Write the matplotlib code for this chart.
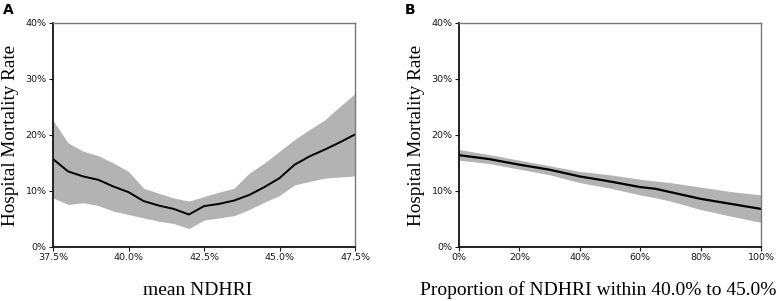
import matplotlib
matplotlib.use("Agg")
import matplotlib.pyplot as plt
from matplotlib.ticker import FuncFormatter

# Panel A data
a_x = [37.5, 38.0, 38.5, 39.0, 39.5, 40.0, 40.5, 41.0, 41.5, 42.0, 42.5,
       43.0, 43.5, 44.0, 44.5, 45.0, 45.5, 46.0, 46.5, 47.0, 47.5]
a_mean = [15.7, 13.5, 12.6, 12.0, 10.8, 9.8, 8.2, 7.4, 6.8, 5.8, 7.3,
          7.7, 8.3, 9.3, 10.7, 12.3, 14.7, 16.2, 17.4, 18.7, 20.1]
a_upper = [22.6, 18.6, 17.1, 16.3, 15.0, 13.5, 10.5, 9.6, 8.75, 8.2, 9.0,
           9.8, 10.5, 13.2, 15.0, 17.1, 19.2, 21.0, 22.7, 25.1, 27.4]
a_lower = [8.75, 7.6, 7.9, 7.4, 6.4, 5.8, 5.2, 4.6, 4.2, 3.3, 4.8,
           5.2, 5.6, 6.7, 8.0, 9.2, 11.1, 11.7, 12.3, 12.5, 12.7]

# Panel B data
b_x = [0, 10, 20, 30, 40, 50, 60, 65, 70, 80, 90, 100]
b_mean = [16.4, 15.7, 14.7, 13.8, 12.6, 11.7, 10.7, 10.4, 9.8, 8.6, 7.7, 6.8]
b_upper = [17.4, 16.5, 15.5, 14.5, 13.5, 12.9, 12.1, 11.8, 11.5, 10.7, 9.9, 9.3]
b_lower = [15.5, 14.9, 13.9, 12.9, 11.5, 10.5, 9.3, 8.8, 8.2, 6.7, 5.5, 4.4]

a_xticks = [37.5, 40.0, 42.5, 45.0, 47.5]
b_xticks = [0, 20, 40, 60, 80, 100]
yticks = [0, 10, 20, 30, 40]

fig = plt.figure(figsize=(7.82, 3.01), dpi=100)
W, H = 782, 301
axA = fig.add_axes([53 / W, 1 - 247 / H, (355 - 53) / W, (247 - 23) / H])
axB = fig.add_axes([459 / W, 1 - 247 / H, (761 - 459) / W, (247 - 23) / H])

serif = ["Liberation Serif", "DejaVu Serif"]

def style(ax, xlim, xticks, xfmt, xlabel, xlabel_x):
    ax.set_xlim(*xlim)
    ax.set_ylim(0, 40)
    ax.set_xticks(xticks)
    ax.set_yticks(yticks)
    ax.xaxis.set_major_formatter(FuncFormatter(xfmt))
    ax.yaxis.set_major_formatter(FuncFormatter(lambda v, p: f"{v:.0f}%"))
    ax.tick_params(labelsize=6.8, length=3, width=0.8, pad=1.5, colors="#1a1a1a")
    for s in ["left", "bottom"]:
        ax.spines[s].set_linewidth(1.3)
        ax.spines[s].set_color("#111111")
    for s in ["top", "right"]:
        ax.spines[s].set_linewidth(1.0)
        ax.spines[s].set_color("#777777")
    ax.set_ylabel("Hospital Mortality Rate", family=serif, fontsize=13.8, labelpad=5)
    ax.set_xlabel(xlabel, family=serif, fontsize=14)
    ax.xaxis.set_label_coords(xlabel_x, (247 - 295) / 224)
    ax.xaxis.label.set_va("baseline")

axA.fill_between(a_x, a_lower, a_upper, color="#b3b3b3", linewidth=0)
axA.plot(a_x, a_mean, color="black", linewidth=1.4)
style(axA, (37.5, 47.5), a_xticks, lambda v, p: f"{v:.1f}%", "mean NDHRI", 0.478)

axB.fill_between(b_x, b_lower, b_upper, color="#b3b3b3", linewidth=0)
axB.plot(b_x, b_mean, color="black", linewidth=1.6)
style(axB, (0, 100), b_xticks, lambda v, p: f"{v:.0f}%",
      "Proportion of NDHRI within 40.0% to 45.0%", 0.46)

fig.text(3 / W, 1 - 10 / H, "A", fontsize=10, fontweight="bold", va="center", ha="left")
fig.text(405 / W, 1 - 10 / H, "B", fontsize=10, fontweight="bold", va="center", ha="left")

fig.savefig("out.png", dpi=100)
